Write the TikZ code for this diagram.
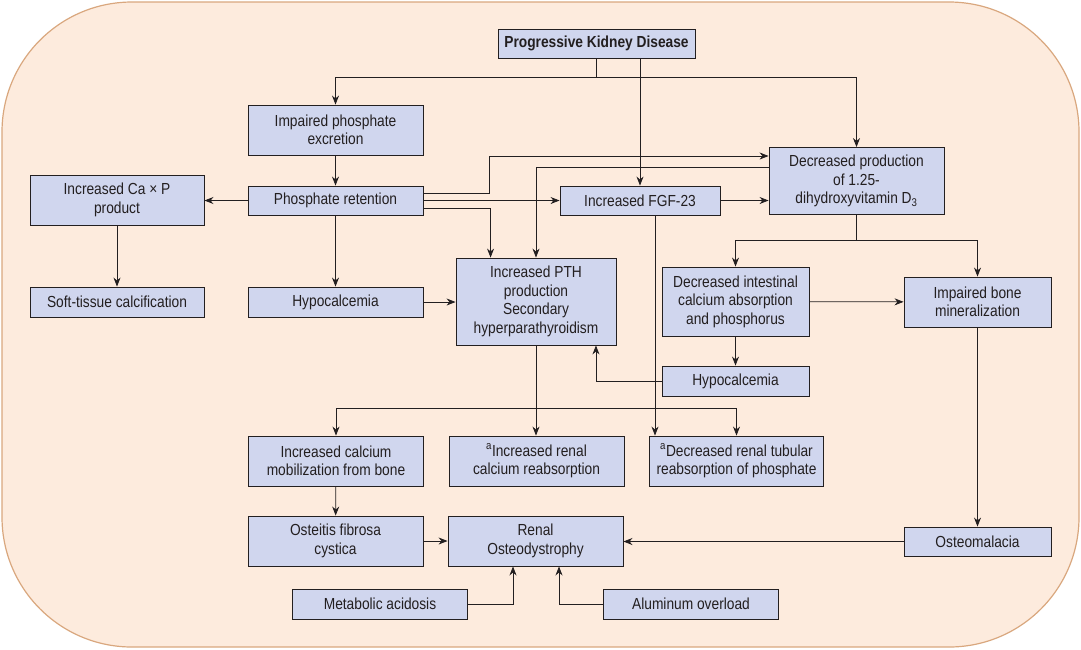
\documentclass[tikz,border=0pt]{standalone}
\usepackage{fontspec}
\setmainfont{Liberation Sans}[FakeStretch=0.86]
\usetikzlibrary{positioning,arrows.meta}
\definecolor{peach}{HTML}{FDEBDD}
\definecolor{bgborder}{HTML}{D9A77E}
\definecolor{boxblue}{HTML}{D0D6EE}
\definecolor{inkline}{HTML}{231F20}

\begin{document}
\begin{tikzpicture}[x=1pt,y=-1pt]
    \tikzset{
        boxstyle/.style={draw=inkline, fill=boxblue, line width=0.9pt, align=center,
            inner sep=0pt, text=inkline, font=\fontsize{16}{18.5}\selectfont},
        arrowstyle/.style={-{Stealth[length=9pt,width=7pt]}, line width=0.8pt, inkline}
    }

    \useasboundingbox (0,0) rectangle (1081,649);
    \draw[draw=bgborder, fill=peach, line width=1.2pt, rounded corners=130pt] (2,2) rectangle (1079,647);

    \node[boxstyle, minimum width=197pt, minimum height=29pt] (pkd) at (596.5,43.5) {\bfseries Progressive Kidney Disease};
    \node[boxstyle, minimum width=175pt, minimum height=50pt] (ipe) at (335.5,130) {Impaired phosphate\\excretion};
    \node[boxstyle, minimum width=175pt, minimum height=29pt] (pr) at (335.5,200.5) {Phosphate retention};
    \node[boxstyle, minimum width=174pt, minimum height=50pt] (cap) at (117,200) {Increased Ca × P\\product};
    \node[boxstyle, minimum width=174pt, minimum height=30pt] (stc) at (117,302) {Soft-tissue calcification};
    \node[boxstyle, minimum width=175pt, minimum height=30pt] (hypoA) at (335.5,302) {Hypocalcemia};
    \node[boxstyle, minimum width=160pt, minimum height=29pt] (fgf) at (640,200.5) {Increased FGF-23};
    \node[boxstyle, minimum width=175pt, minimum height=67pt] (vitd) at (856.5,181) {Decreased production\\of 1.25-\\dihydroxyvitamin D\textsubscript{3}};
    \node[boxstyle, minimum width=160pt, minimum height=87pt] (pth) at (536,301.5) {Increased PTH\\production\\Secondary\\hyperparathyroidism};
    \node[boxstyle, minimum width=147pt, minimum height=69pt] (dic) at (735.5,301.5) {Decreased intestinal\\calcium absorption\\and phosphorus};
    \node[boxstyle, minimum width=147pt, minimum height=50pt] (ibm) at (977.5,302) {Impaired bone\\mineralization};
    \node[boxstyle, minimum width=147pt, minimum height=30pt] (hypoB) at (735.5,381) {Hypocalcemia};
    \node[boxstyle, minimum width=175pt, minimum height=50pt] (icm) at (336,461) {Increased calcium\\mobilization from bone};
    \node[boxstyle, minimum width=175pt, minimum height=50pt] (irc) at (536.5,461) {\textsuperscript{a}Increased renal\\calcium reabsorption};
    \node[boxstyle, minimum width=174pt, minimum height=50pt] (drt) at (736.5,461) {\textsuperscript{a}Decreased renal tubular\\reabsorption of phosphate};
    \node[boxstyle, minimum width=175pt, minimum height=50pt] (ofc) at (335.5,541) {Osteitis fibrosa\\cystica};
    \node[boxstyle, minimum width=175pt, minimum height=50pt] (ro) at (535.5,541) {Renal\\Osteodystrophy};
    \node[boxstyle, minimum width=147pt, minimum height=29pt] (om) at (977.5,541.5) {Osteomalacia};
    \node[boxstyle, minimum width=175pt, minimum height=30pt] (ma) at (380,604) {Metabolic acidosis};
    \node[boxstyle, minimum width=175pt, minimum height=30pt] (ao) at (691,604) {Aluminum overload};

    \coordinate (pkdsplit) at (596.5,77);
    \coordinate (vitdsplit) at (856.5,240);
    \coordinate (pthsplit) at (536,408);

    \draw[arrowstyle] (pkd.south) -- (pkdsplit) -| (ipe.north);
    \draw[arrowstyle] (pkdsplit) -| (vitd.north);
    \draw[arrowstyle] (pkd.south -| fgf.north) -- (fgf.north);
    \draw[arrowstyle] (ipe) -- (pr);
    \draw[arrowstyle] (pr.west) -- (pr.west -| cap.east);
    \draw[arrowstyle] (cap) -- (stc);
    \draw[arrowstyle] (pr) -- (hypoA);
    \draw[arrowstyle] (pr) -- (fgf);
    \draw[arrowstyle] ([yshift=7.5pt]pr.east) -- ++(66,0) |- ([yshift=25pt]vitd.west);
    \draw[arrowstyle] ([yshift=-7.5pt]pr.east) -| ([xshift=35pt]pth.north west);
    \draw[arrowstyle] ([yshift=14pt]vitd.west) -| (pth.north);
    \draw[arrowstyle] (fgf.east) -- (fgf.east -| vitd.west);
    \draw[arrowstyle] (vitd.south) -- (vitdsplit) -| (dic.north);
    \draw[arrowstyle] (vitdsplit) -| (ibm.north);
    \draw[arrowstyle] (dic) -- (ibm);
    \draw[arrowstyle] (dic) -- (hypoB);
    \draw[arrowstyle] (hypoB.west) -| ([xshift=-20.5pt]pth.south east);
    \draw[arrowstyle] (hypoA.east) -- (hypoA.east -| pth.west);
    \draw[arrowstyle] ([xshift=15pt]fgf.south) -- ([xshift=15pt]fgf.south |- drt.north);
    \draw[arrowstyle] (pth.south) -- (pth.south |- irc.north);
    \draw[arrowstyle] (pthsplit) -| (icm.north);
    \draw[arrowstyle] (pthsplit) -| (drt.north);
    \draw[arrowstyle] (ibm) -- (om);
    \draw[arrowstyle] (icm) -- (ofc);
    \draw[arrowstyle] (ofc) -- (ro);
    \draw[arrowstyle] (om.west) -- (om.west -| ro.east);
    \draw[arrowstyle] (ma.east) -| ([xshift=-22.5pt]ro.south);
    \draw[arrowstyle] (ao.west) -| ([xshift=23.5pt]ro.south);

\end{tikzpicture}
\end{document}
